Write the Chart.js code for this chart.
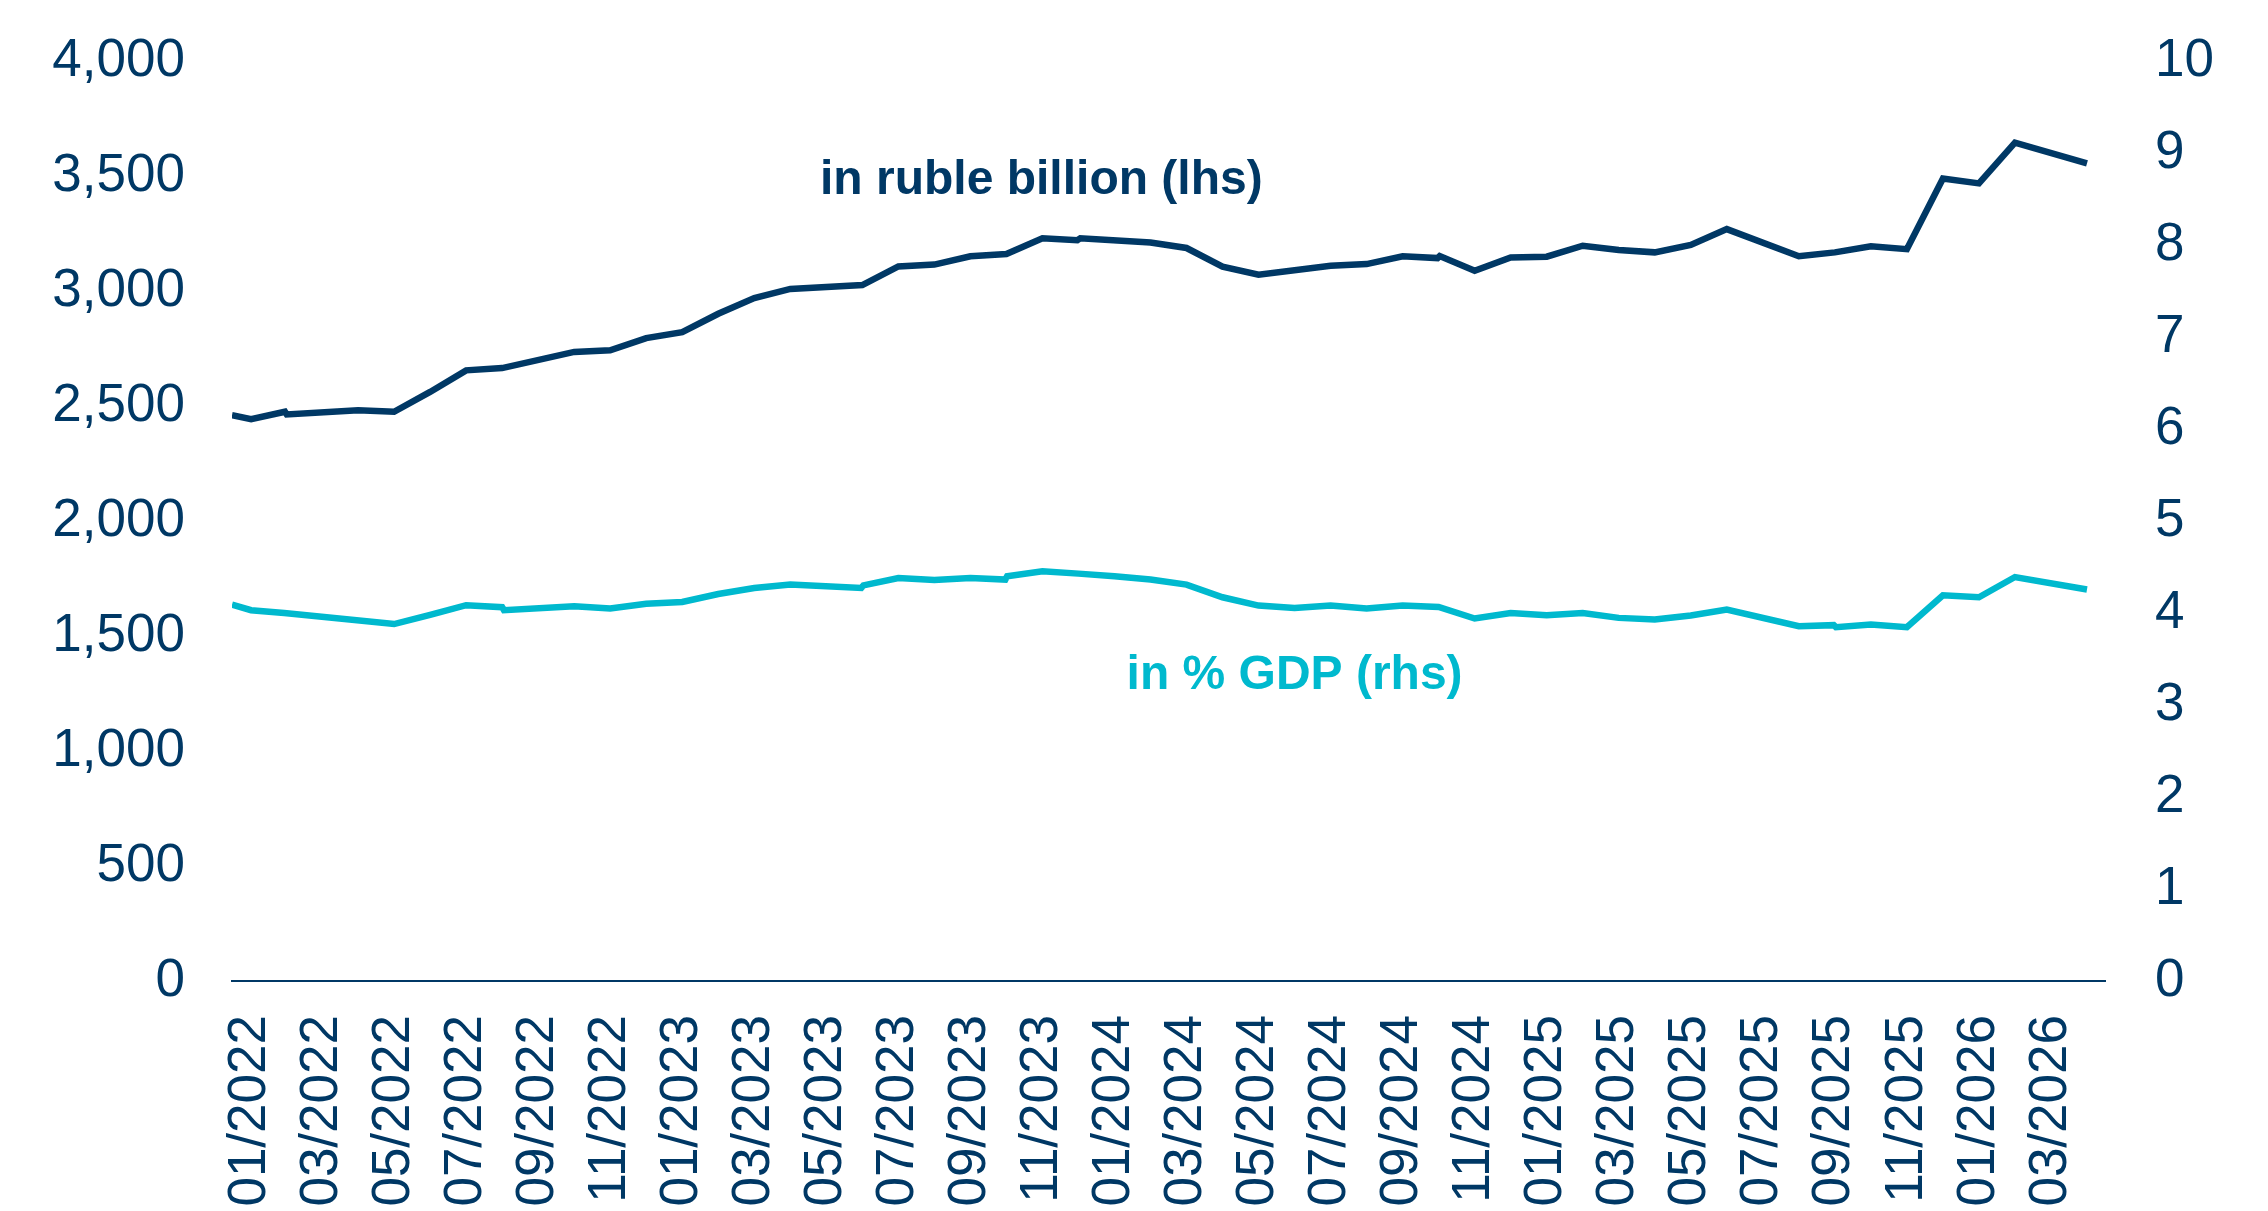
<!DOCTYPE html>
<html>
<head>
<meta charset="utf-8">
<script src="https://cdn.jsdelivr.net/npm/chart.js@4"></script>
<style>
  html, body { margin: 0; padding: 0; background: #ffffff; }
  #c { display: block; }
</style>
</head>
<body>
<canvas id="c" width="2268" height="1211"></canvas>
<script>
// x positions are in months since the start of 01/2022 (0 = 1 Jan 2022, 0.5 = mid-January)
const rubleMonths = [0, 0.53, 1.47, 1.52, 3.5, 4.5, 5.5, 6.5, 7.5, 9.5, 10.5, 11.5, 12.5, 13.5, 14.5, 15.5, 17.5, 18.5, 19.5, 20.5, 21.5, 22.5, 23.47, 23.55, 25.5, 26.5, 27.5, 28.5, 30.5, 31.5, 32.5, 33.47, 33.53, 34.5, 35.5, 36.5, 37.5, 38.5, 39.5, 40.5, 41.5, 43.5, 44.5, 45.5, 46.5, 47.5, 48.5, 49.5, 51.5];
const rubleBillion = [2460, 2443, 2475, 2463, 2482, 2475, 2561, 2655, 2665, 2735, 2742, 2795, 2821, 2901, 2969, 3009, 3026, 3107, 3115, 3151, 3161, 3229, 3221, 3229, 3211, 3187, 3106, 3071, 3110, 3117, 3151, 3143, 3152, 3088, 3146, 3149, 3197, 3178, 3168, 3200, 3269, 3151, 3168, 3194, 3182, 3489, 3468, 3645, 3555];

const gdpMonths = [0, 0.53, 1.45, 4.5, 5.5, 6.5, 7.5, 7.55, 9.5, 10.5, 11.5, 12.5, 13.5, 14.5, 15.5, 17.47, 17.53, 18.5, 19.5, 20.5, 21.47, 21.52, 22.5, 23.5, 24.5, 25.5, 26.5, 27.5, 28.5, 29.5, 30.5, 31.5, 32.5, 33.5, 34.5, 35.5, 36.5, 37.5, 38.5, 39.5, 40.5, 41.5, 43.5, 44.47, 44.53, 45.5, 46.5, 47.5, 48.5, 49.5, 51.5];
const gdpPercent = [4.09, 4.03, 4.00, 3.88, 3.98, 4.085, 4.063, 4.03, 4.074, 4.05, 4.10, 4.12, 4.207, 4.272, 4.309, 4.272, 4.30, 4.38, 4.359, 4.38, 4.363, 4.399, 4.453, 4.428, 4.399, 4.363, 4.309, 4.171, 4.081, 4.055, 4.081, 4.049, 4.081, 4.066, 3.94, 4.00, 3.976, 4.00, 3.947, 3.93, 3.973, 4.038, 3.857, 3.868, 3.845, 3.875, 3.846, 4.193, 4.171, 4.391, 4.255];

const tickMonths = [0.5, 2.5, 4.5, 6.5, 8.5, 10.5, 12.5, 14.5, 16.5, 18.5, 20.5, 22.5, 24.5, 26.5, 28.5, 30.5, 32.5, 34.5, 36.5, 38.5, 40.5, 42.5, 44.5, 46.5, 48.5, 50.5];
const tickLabels = ['01/2022', '03/2022', '05/2022', '07/2022', '09/2022', '11/2022', '01/2023', '03/2023', '05/2023', '07/2023', '09/2023', '11/2023', '01/2024', '03/2024', '05/2024', '07/2024', '09/2024', '11/2024', '01/2025', '03/2025', '05/2025', '07/2025', '09/2025', '11/2025', '01/2026', '03/2026'];

const seriesNames = ['in ruble billion (lhs)', 'in % GDP (rhs)'];

const NAVY = '#003865';
const CYAN = '#00B9CE';
const FONT = "'Liberation Sans', Arial, sans-serif";

const seriesLabels = {
  id: 'seriesLabels',
  afterDatasetsDraw(chart) {
    const { ctx, scales } = chart;
    ctx.save();
    ctx.font = "bold 48px " + FONT;
    ctx.textAlign = 'center';
    ctx.textBaseline = 'middle';
    ctx.fillStyle = NAVY;
    ctx.fillText(seriesNames[0], scales.x.getPixelForValue(22.47), scales.y.getPixelForValue(3480));
    ctx.fillStyle = CYAN;
    ctx.fillText(seriesNames[1], scales.x.getPixelForValue(29.5), scales.y1.getPixelForValue(3.32));
    ctx.restore();
  }
};

function clearPad(s) {
  s.paddingTop = 0; s.paddingBottom = 0; s.paddingLeft = 0; s.paddingRight = 0;
}

new Chart(document.getElementById('c'), {
  type: 'line',
  data: {
    datasets: [
      {
        label: seriesNames[0],
        data: rubleMonths.map((m, i) => ({ x: m, y: rubleBillion[i] })),
        yAxisID: 'y',
        borderColor: NAVY,
        borderWidth: 6.5,
        pointRadius: 0,
        tension: 0,
        fill: false
      },
      {
        label: seriesNames[1],
        data: gdpMonths.map((m, i) => ({ x: m, y: gdpPercent[i] })),
        yAxisID: 'y1',
        borderColor: CYAN,
        borderWidth: 6.5,
        pointRadius: 0,
        tension: 0,
        fill: false
      }
    ]
  },
  options: {
    responsive: false,
    animation: false,
    layout: { padding: { top: 61, left: 0, right: 0, bottom: 0 } },
    plugins: { legend: { display: false }, tooltip: { enabled: false } },
    scales: {
      x: {
        type: 'linear',
        min: 0,
        max: 52,
        grid: { display: false, drawTicks: false },
        border: { display: true, color: NAVY, width: 2 },
        afterBuildTicks: (axis) => { axis.ticks = tickMonths.map(v => ({ value: v })); },
        ticks: {
          autoSkip: false,
          minRotation: 90,
          maxRotation: 90,
          padding: 34,
          color: NAVY,
          font: { family: FONT, size: 53 },
          callback: (v, i) => tickLabels[i]
        },
        afterFit: (s) => { s.height = 230; clearPad(s); }
      },
      y: {
        position: 'left',
        min: 0,
        max: 4000,
        grid: { display: false, drawTicks: false },
        border: { display: false },
        ticks: {
          stepSize: 500,
          padding: 47,
          color: NAVY,
          font: { family: FONT, size: 53 },
          callback: (v) => v.toLocaleString('en-US')
        },
        afterFit: (s) => { s.width = 232; clearPad(s); }
      },
      y1: {
        position: 'right',
        min: 0,
        max: 10,
        grid: { display: false, drawTicks: false },
        border: { display: false },
        ticks: {
          stepSize: 1,
          padding: 50,
          color: NAVY,
          font: { family: FONT, size: 53 }
        },
        afterFit: (s) => { s.width = 163; clearPad(s); }
      }
    }
  },
  plugins: [seriesLabels]
});
</script>
</body>
</html>
